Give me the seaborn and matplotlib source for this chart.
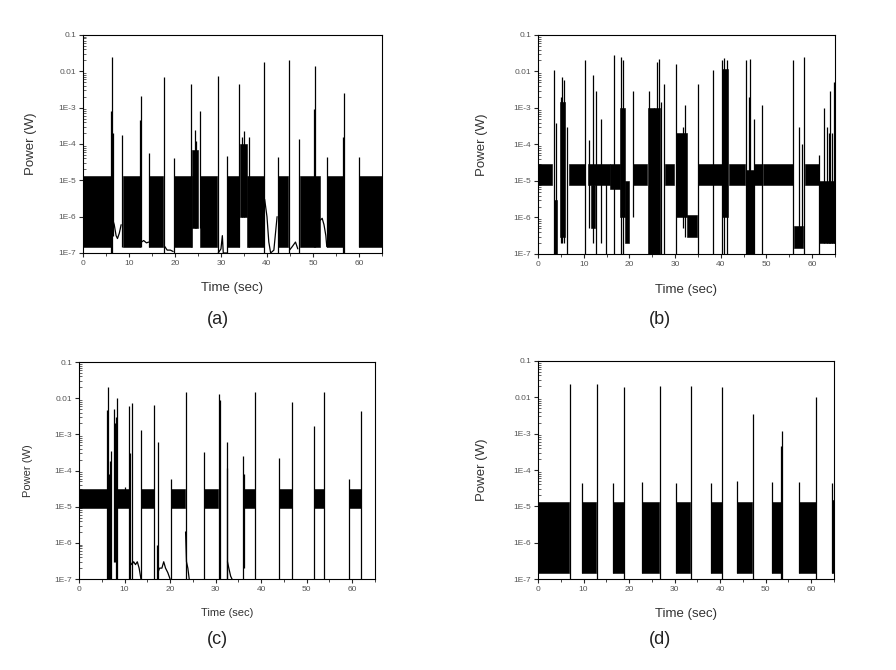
import numpy as np
import pandas as pd
import matplotlib
matplotlib.use("Agg")
import matplotlib.pyplot as plt
import seaborn as sns
from matplotlib.ticker import FixedLocator, FixedFormatter, LogLocator, NullFormatter, MultipleLocator

# ---------------- data ----------------
y_ticks = [1e-7, 1e-6, 1e-5, 1e-4, 1e-3, 1e-2, 1e-1]
y_tick_labels = ["1E-7", "1E-6", "1E-5", "1E-4", "1E-3", "0.01", "0.1"]
x_ticks = [0, 10, 20, 30, 40, 50, 60]

# panel (a): noise bands (start, end, low, high)
a_band_start = [0.0, 8.8, 14.4, 19.7, 23.6, 25.5, 31.4, 34.1, 35.6, 42.4, 47.2, 53.1, 59.9]
a_band_end   = [6.2, 12.4, 17.5, 23.6, 25.0, 29.2, 33.9, 35.6, 39.3, 44.6, 51.6, 56.6, 65.0]
a_band_low   = [1.5e-7, 1.5e-7, 1.5e-7, 1.5e-7, 5e-7, 1.5e-7, 1.5e-7, 1e-6, 1.5e-7, 1.5e-7, 1.5e-7, 1.5e-7, 1.5e-7]
a_band_high  = [1.3e-5, 1.3e-5, 1.3e-5, 1.3e-5, 7e-5, 1.3e-5, 1.3e-5, 1e-4, 1.3e-5, 1.3e-5, 1.3e-5, 1.3e-5, 1.3e-5]
a_spike_t    = [6.1, 6.4, 6.6, 8.5, 12.5, 12.6, 14.4, 17.7, 19.7, 23.5, 24.3, 24.6, 25.5, 29.3, 31.4,
                34.0, 34.6, 35.0, 36.2, 39.4, 42.5, 44.8, 47.0, 50.3, 50.4, 53.1, 56.6, 56.7, 59.9]
a_spike_top  = [8e-4, 0.024, 2e-4, 1.8e-4, 4.5e-4, 2.1e-3, 5.6e-5, 7e-3, 4e-5, 4.4e-3, 2.5e-4, 1.2e-4, 8.3e-4, 7.6e-3, 4.7e-5,
                4.5e-3, 1.6e-4, 2.3e-4, 1.6e-4, 0.0186, 4.4e-5, 0.021, 1.4e-4, 9e-4, 0.0144, 4.5e-5, 1.6e-4, 2.6e-3, 4.4e-5]
a_spike_bot  = [1e-7, 1e-7, 3e-7, 1.5e-7, 1.5e-7, 1.5e-7, 1.5e-7, 1e-7, 1e-7, 1.5e-7, 5e-7, 5e-7, 5e-7, 1e-7, 1e-7,
                1.5e-7, 1e-6, 1e-6, 1.5e-7, 1e-7, 1e-7, 1e-7, 1e-7, 1.5e-7, 1.5e-7, 1.5e-7, 1e-7, 1e-7, 1.5e-7]
a_trace_id = [1]*6 + [2]*4 + [3]*4 + [4]*5 + [5]*6 + [6]*4 + [7]*5
a_trace_t  = [6.5, 6.8, 7.2, 7.5, 7.9, 8.3,
              12.7, 13.2, 13.8, 14.3,
              17.8, 18.3, 19.0, 19.6,
              29.4, 30.0, 30.3, 30.5, 31.3,
              39.5, 40.0, 40.4, 40.8, 41.5, 42.2,
              44.9, 45.5, 46.2, 46.7,
              51.6, 52.0, 52.4, 52.8, 53.0]
a_trace_p  = [8e-7, 6e-7, 3e-7, 2.5e-7, 3.5e-7, 6e-7,
              2e-7, 2.2e-7, 1.9e-7, 2e-7,
              1.5e-7, 1.2e-7, 1.2e-7, 1.1e-7,
              1e-7, 1.3e-7, 3e-7, 1e-7, 1e-7,
              3e-6, 1e-6, 2e-7, 1e-7, 1.2e-7, 1e-6,
              1.2e-7, 1.5e-7, 2e-7, 1.3e-7,
              8e-7, 9e-7, 6e-7, 3e-7, 1.5e-7]

# panel (b)
b_band_start = [0.0, 3.5, 4.9, 6.7, 11.0, 11.5, 15.8, 18.0, 19.0, 20.9, 24.0, 27.8, 30.3, 32.6, 35.0,
                40.3, 41.7, 45.5, 47.2, 49.3, 56.0, 58.5, 61.5]
b_band_end   = [3.1, 4.2, 6.0, 10.3, 15.8, 12.5, 18.0, 19.0, 20.0, 23.8, 26.8, 29.8, 32.6, 34.8, 40.2,
                41.5, 45.3, 47.2, 49.0, 55.9, 58.0, 61.4, 65.0]
b_band_low   = [8e-6, 1e-7, 3e-7, 8e-6, 8e-6, 5e-7, 6e-6, 1e-6, 2e-7, 8e-6, 1e-7, 8e-6, 1e-6, 3e-7, 8e-6,
                1e-6, 8e-6, 1e-7, 8e-6, 8e-6, 1.5e-7, 8e-6, 2e-7]
b_band_high  = [3e-5, 3e-6, 1.5e-3, 3e-5, 3e-5, 8e-6, 3e-5, 1e-3, 1e-5, 3e-5, 1e-3, 3e-5, 2e-4, 1.2e-6, 3e-5,
                0.012, 3e-5, 2e-5, 3e-5, 3e-5, 6e-7, 3e-5, 1e-5]
b_spike_t    = [3.6, 3.9, 5.0, 5.3, 5.6, 6.3, 10.4, 11.1, 12.0, 12.7, 13.7, 14.8, 16.7, 18.2, 18.6, 20.9,
                24.3, 25.5, 26.0, 26.4, 26.9, 27.6, 30.2, 31.7, 32.2, 35.0, 38.3, 40.2, 40.8, 41.3,
                45.6, 46.2, 46.5, 47.2, 49.0, 55.9, 57.2, 57.7, 58.3, 61.5, 62.6, 63.2, 63.6, 63.9, 64.4, 64.7]
b_spike_top  = [0.011, 4e-4, 2e-3, 0.007, 0.006, 3e-4, 0.02, 1.3e-4, 0.008, 0.003, 5e-4, 2e-5, 0.028, 0.025, 0.02, 0.003,
                0.003, 1e-3, 0.018, 0.022, 0.0015, 0.0045, 0.016, 3e-4, 0.0012, 0.0045, 0.011, 0.02, 0.024, 0.02,
                0.02, 2e-3, 0.022, 5e-4, 0.0012, 0.02, 3e-4, 1e-4, 0.025, 5e-5, 1e-3, 3e-4, 2e-4, 0.003, 2e-4, 0.005]
b_spike_bot  = [1e-7, 1e-7, 2e-7, 2e-7, 2e-7, 1e-7, 1e-7, 5e-7, 2e-7, 1e-7, 2e-7, 1e-7, 1e-7, 1e-7, 1e-7, 1e-6,
                1e-7, 1e-7, 1e-7, 1e-7, 1e-7, 1e-7, 1e-7, 5e-7, 3e-7, 1e-7, 1e-7, 1e-7, 1e-7, 1e-7,
                1e-7, 1e-7, 1e-7, 1e-7, 1e-7, 1e-7, 2e-7, 2e-7, 1e-7, 1e-7, 2e-7, 2e-7, 2e-7, 2e-7, 2e-7, 2e-7]

# panel (c)
c_band_start = [0.0, 8.4, 13.7, 20.1, 27.5, 36.1, 43.9, 51.7, 59.2]
c_band_end   = [6.1, 11.0, 16.5, 23.3, 30.6, 38.6, 46.7, 53.7, 61.9]
c_band_low   = [9e-6] * 9
c_band_high  = [3e-5] * 9
c_spike_t    = [6.1, 6.3, 6.5, 6.7, 7.0, 7.7, 7.9, 8.1, 8.3, 10.1, 11.0, 11.2, 11.7, 13.7, 16.5, 17.1, 17.3,
                20.1, 23.4, 27.5, 30.7, 31.0, 32.4, 32.6, 36.0, 36.2, 38.6, 43.9, 46.7, 51.7, 53.7, 59.2, 61.9]
c_spike_top  = [0.0047, 0.02, 8e-5, 1.8e-4, 3.5e-4, 0.005, 0.002, 0.003, 0.0098, 3.5e-5, 0.006, 3e-4, 0.0075, 1.35e-3,
                0.0065, 9e-7, 6e-4, 6e-5, 0.0148, 3.3e-4, 0.013, 0.009, 1.2e-4, 6e-4, 2.5e-4, 8e-5, 0.015, 2.2e-4,
                0.0076, 1.7e-3, 0.015, 6e-5, 0.0045]
c_spike_bot  = [1e-7, 1e-7, 1e-7, 1e-7, 1e-7, 3e-7, 3e-7, 1e-7, 1e-7, 1e-5, 1e-7, 1e-7, 1e-7, 1e-7,
                1e-7, 1e-7, 1e-7, 1e-7, 1e-7, 1e-7, 1e-7, 1e-7, 1e-7, 1e-7, 1e-7, 2e-7, 1e-7, 1e-7,
                1e-7, 1e-7, 1e-7, 1e-7, 1e-7]
c_trace_id = [1]*7 + [2]*7 + [3]*4 + [4]*4
c_trace_t  = [11.2, 11.6, 12.0, 12.4, 12.8, 13.2, 13.6,
              17.3, 17.7, 18.2, 18.6, 19.0, 19.5, 20.0,
              23.4, 23.6, 23.9, 24.2,
              32.6, 32.9, 33.3, 33.6]
c_trace_p  = [3e-7, 2.5e-7, 3e-7, 2.5e-7, 3e-7, 2e-7, 1e-7,
              1.5e-7, 2e-7, 2e-7, 3e-7, 2e-7, 1.5e-7, 1e-7,
              2e-6, 3e-7, 2e-7, 1e-7,
              3e-7, 2e-7, 1.2e-7, 1e-7]

# panel (d)
d_band_start = [0.0, 9.6, 16.4, 22.9, 30.2, 38.1, 43.7, 51.4, 57.3, 64.6]
d_band_end   = [6.9, 12.8, 18.8, 26.6, 33.4, 40.3, 47.1, 53.3, 61.0, 65.0]
d_band_low   = [1.5e-7] * 10
d_band_high  = [1.3e-5] * 9 + [1.5e-5]
d_spike_t    = [7.1, 9.6, 12.9, 16.4, 19.0, 22.9, 26.7, 30.2, 33.5, 38.1, 40.5, 43.7, 47.2, 51.4,
                53.4, 53.5, 57.3, 61.1, 64.6]
d_spike_top  = [0.023, 4.4e-5, 0.024, 4.5e-5, 0.019, 4.8e-5, 0.02, 4.5e-5, 0.02, 4.5e-5, 0.019, 5e-5, 0.0034, 4.6e-5,
                4.5e-4, 0.0012, 4.7e-5, 0.0105, 4.5e-5]
d_spike_bot  = [1e-7, 1.5e-7, 1e-7, 1.5e-7, 1e-7, 1.5e-7, 1e-7, 1.5e-7, 1e-7, 1.5e-7, 1e-7, 1.5e-7, 1e-7, 1.5e-7,
                1e-7, 1e-7, 1.5e-7, 1e-7, 1.5e-7]

# ---------------- drawing ----------------
sns.set_style("ticks")
plt.rcParams['font.family'] = ['Liberation Sans', 'DejaVu Sans']

fig = plt.figure(figsize=(8.96, 6.7), dpi=100)

positions = {
    "a": [0.0926, 0.6224, 0.4263 - 0.0926, 0.9478 - 0.6224],
    "b": [0.6004, 0.6209, 0.9319 - 0.6004, 0.9478 - 0.6209],
    "c": [0.0882, 0.1358, 0.4185 - 0.0882, 0.4597 - 0.1358],
    "d": [0.6004, 0.1358, 0.9308 - 0.6004, 0.4612 - 0.1358],
}

panels = {
    "a": dict(bands=(a_band_start, a_band_end, a_band_low, a_band_high),
              spikes=(a_spike_t, a_spike_top, a_spike_bot),
              traces=(a_trace_id, a_trace_t, a_trace_p), ylab_x=-0.154, lab_fs=9.5),
    "b": dict(bands=(b_band_start, b_band_end, b_band_low, b_band_high),
              spikes=(b_spike_t, b_spike_top, b_spike_bot),
              traces=None, ylab_x=-0.168, lab_fs=9.5),
    "c": dict(bands=(c_band_start, c_band_end, c_band_low, c_band_high),
              spikes=(c_spike_t, c_spike_top, c_spike_bot),
              traces=(c_trace_id, c_trace_t, c_trace_p), ylab_x=-0.155, lab_fs=8),
    "d": dict(bands=(d_band_start, d_band_end, d_band_low, d_band_high),
              spikes=(d_spike_t, d_spike_top, d_spike_bot),
              traces=None, ylab_x=-0.169, lab_fs=9.5),
}

letter_pos = {"a": (0.2433, 0.5224), "b": (0.7366, 0.5224),
              "c": (0.2422, 0.0448), "d": (0.7366, 0.0448)}

for key, spec in panels.items():
    ax = fig.add_axes(positions[key])
    ax.set_yscale("log")
    ax.set_xlim(0, 65)
    ax.set_ylim(1e-7, 0.1)

    s, e, lo, hi = spec["bands"]
    for s0, e0, l0, h0 in zip(s, e, lo, hi):
        ax.fill_between([s0, e0], [l0, l0], [h0, h0], color="black", linewidth=0.4)

    st, stop, sbot = spec["spikes"]
    ax.vlines(st, sbot, stop, color="black", linewidth=0.9)

    if spec["traces"] is not None:
        tid, tt, tp = spec["traces"]
        df = pd.DataFrame({"seg": tid, "t": tt, "p": tp})
        sns.lineplot(data=df, x="t", y="p", units="seg", estimator=None, sort=False,
                     color="black", linewidth=0.9, ax=ax, legend=False)

    ax.yaxis.set_major_locator(FixedLocator(y_ticks))
    ax.yaxis.set_major_formatter(FixedFormatter(y_tick_labels))
    ax.yaxis.set_minor_locator(LogLocator(base=10, subs=np.arange(2, 10)))
    ax.yaxis.set_minor_formatter(NullFormatter())
    ax.xaxis.set_major_locator(FixedLocator(x_ticks))
    ax.xaxis.set_minor_locator(MultipleLocator(5))

    ax.tick_params(axis="both", which="major", direction="out", length=3, width=0.8,
                   labelsize=6, labelcolor="#555555", pad=2)
    ax.tick_params(axis="y", which="minor", direction="in", length=2, width=0.5)
    ax.tick_params(axis="x", which="minor", direction="out", length=2, width=0.6)
    for sp in ax.spines.values():
        sp.set_visible(True)
        sp.set_linewidth(0.8)
        sp.set_color("black")

    ax.set_xlabel("Time (sec)", fontsize=spec["lab_fs"], color="#333333")
    ax.set_ylabel("Power (W)", fontsize=spec["lab_fs"], color="#333333")
    ax.xaxis.set_label_coords(0.5, -0.135)
    ax.yaxis.set_label_coords(spec["ylab_x"], 0.5)

    lx, ly = letter_pos[key]
    fig.text(lx, ly, f"({key})", ha="center", va="center", fontsize=13, color="#222222")

fig.savefig("out.png", dpi=100)
